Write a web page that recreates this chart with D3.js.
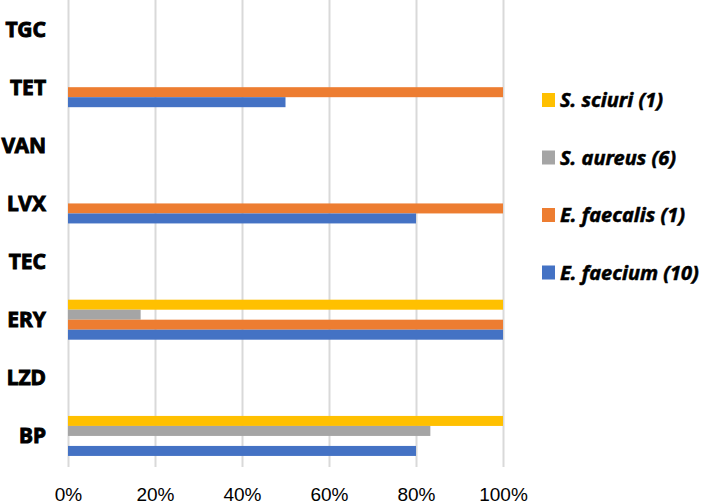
<!DOCTYPE html>
<html lang="en">
<head>
<meta charset="UTF-8">
<title>Resistance by antibiotic</title>
<script src="https://cdn.jsdelivr.net/npm/d3@7"></script>
<style>
body { margin: 0; background: #fff; font-family: "Noto Sans", "Open Sans", sans-serif; }
svg { display: block; }
.grid line { stroke: #d9d9d9; stroke-width: 2px; }
.grid .domain { display: none; }
.xaxis .domain, .xaxis line { display: none; }
.xaxis text { font-size: 19px; fill: #000; }
.cat { font-size: 21px; font-weight: bold; fill: #000; stroke: #000; stroke-width: 0.9px; }
.leg text { font-size: 20px; font-weight: bold; font-style: italic; fill: #000; stroke: #000; stroke-width: 0.5px; }
</style>
</head>
<body>
<script>
// data (percent resistant)
var categories = ["TGC", "TET", "VAN", "LVX", "TEC", "ERY", "LZD", "BP"];
var faecium  = [0, 50, 0, 80, 0, 100, 0, 80];
var faecalis = [0, 100, 0, 100, 0, 100, 0, 0];
var aureus   = [0, 0, 0, 0, 0, 16.7, 0, 83.3];
var sciuri   = [0, 0, 0, 0, 0, 100, 0, 100];
var seriesNames = ["S. sciuri (1)", "S. aureus (6)", "E. faecalis (1)", "E. faecium (10)"];
var seriesValues = [sciuri, aureus, faecalis, faecium];
var colors = ["#FFC000", "#A5A5A5", "#ED7D31", "#4472C4"];
var ticks = [0, 20, 40, 60, 80, 100];

var w = 709, h = 504;
var svg = d3.select("body").append("svg").attr("width", w).attr("height", h);

// scales
var x = d3.scaleLinear().domain([0, 100]).range([68, 503]);
var y = d3.scaleBand().domain(categories).range([0, 465]);
var inner = d3.scaleBand().domain(seriesNames).range([-20, 20]);

// gridlines
svg.append("g")
  .attr("class", "grid")
  .call(d3.axisTop(x).tickValues(ticks).tickSize(-467).tickFormat(""));

// x tick labels
svg.append("g")
  .attr("class", "xaxis")
  .attr("transform", "translate(0,501)")
  .call(d3.axisBottom(x).tickValues(ticks).tickSize(0).tickPadding(0)
    .tickFormat(function(d) { return d + "%"; }))
  .selectAll("text").attr("dy", 0);

// bars
seriesNames.forEach(function(name, s) {
  svg.append("g").selectAll("rect")
    .data(seriesValues[s])
    .enter()
    .append("rect")
    .attr("x", x(0))
    .attr("y", function(d, i) { return y(categories[i]) + y.bandwidth() / 2 + inner(name); })
    .attr("width", function(d) { return x(d) - x(0); })
    .attr("height", inner.bandwidth())
    .attr("fill", colors[s]);
});

// category labels
svg.append("g").selectAll("text")
  .data(categories)
  .enter()
  .append("text")
  .attr("class", "cat")
  .attr("x", 46)
  .attr("y", function(d) { return y(d) + y.bandwidth() / 2; })
  .attr("dy", "0.36em")
  .attr("text-anchor", "end")
  .text(function(d) { return d; });

// legend
var leg = svg.append("g").attr("class", "leg");
seriesNames.forEach(function(name, s) {
  var cy = 100 + s * 57.5;
  leg.append("rect")
    .attr("x", 542).attr("y", cy - 7)
    .attr("width", 13).attr("height", 14)
    .attr("fill", colors[s]);
  leg.append("text")
    .attr("x", 560).attr("y", cy)
    .attr("dy", "0.36em")
    .text(name);
});
</script>
</body>
</html>
